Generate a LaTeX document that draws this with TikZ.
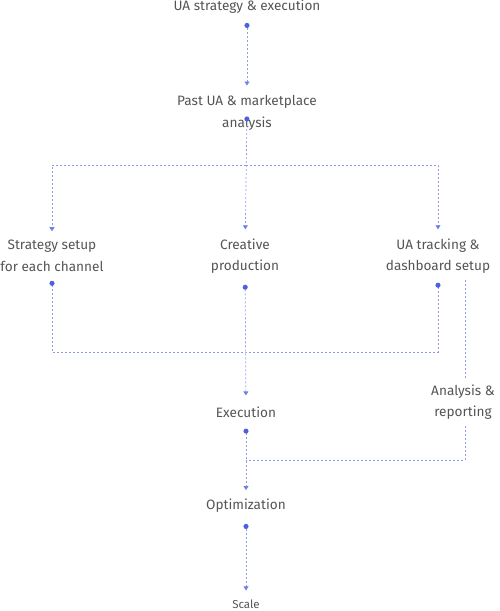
\documentclass[tikz,border=0pt]{standalone}
\usepackage{fontspec}
\setmainfont{Fira Sans}
\usepackage{tikz}
\usetikzlibrary{arrows.meta}
\definecolor{txtgray}{HTML}{555555}
\definecolor{linkblue}{HTML}{8E9CEC}
\definecolor{dotblue}{HTML}{4B5FE0}

\begin{document}
\begin{tikzpicture}[x=1pt,y=-1pt,
    stage/.style={align=center, inner sep=0pt, text=txtgray, font=\fontsize{13.6}{21.5}\selectfont},
    link/.style={draw=linkblue, line width=0.7pt, dash pattern=on 2pt off 2pt},
    dotarrow/.style={{Circle[length=5pt,color=dotblue]}-{Triangle[length=4pt,width=5pt,color=dotblue!80]}},
    arrowonly/.style={-{Triangle[length=4pt,width=5pt,color=dotblue!80]}},
    dotdot/.style={{Circle[length=5pt,color=dotblue]}-{Circle[length=5pt,color=dotblue]}}]
    \useasboundingbox (0,0) rectangle (500,611);

    % stages down the middle
    \node[stage] (top) at (247,7) {UA strategy \& execution};
    \node[stage] (past) at (247,113) {Past UA \& marketplace\\analysis};
    \node[stage] (strat) at (52,256) {Strategy setup\\for each channel};
    \node[stage] (creative) at (245,256) {Creative\\production};
    \node[stage] (track) at (438,256) {UA tracking \&\\dashboard setup};
    \node[stage] (analysis) at (463,402) {Analysis \&\\reporting};
    \node[stage] (exec) at (246,412) {Execution};
    \node[stage] (optim) at (246,506) {Optimization};
    \node[stage, font=\fontsize{11.5}{14}\selectfont] (scale) at (246,604) {Scale};

    % meeting points of the dashed lines
    \coordinate (split) at (246,165);
    \coordinate (loop) at (246,352);
    \coordinate (merge) at (246,460);

    % top to the three set-up stages
    \draw[link, dotarrow, shorten <=9pt, shorten >=10pt] (top) -- (past);
    \draw[link, dotarrow, shorten <=-14pt, shorten >=9pt] (past) -- (creative);
    \draw[link, arrowonly, shorten >=9pt] (split) -| (strat);
    \draw[link, arrowonly, shorten >=9pt] (split) -| (track);

    % set-up stages to execution
    \draw[link, dotdot, shorten <=9pt, shorten >=9pt] (strat) |- (loop) -| (track);
    \draw[link, dotarrow, shorten <=11pt, shorten >=11pt] (creative) -- (exec);
    \draw[link, shorten <=6pt, shorten >=6pt] ([xshift=27pt]track.south) -- ([xshift=2pt]analysis.north);
    \draw[link, shorten <=6pt] ([xshift=2pt]analysis.south) |- (merge);

    % execution onwards
    \draw[link, dotarrow, shorten <=11pt, shorten >=9pt] (exec) -- (optim);
    \draw[link, dotarrow, shorten <=11pt, shorten >=9pt] (optim) -- (scale);
\end{tikzpicture}
\end{document}
